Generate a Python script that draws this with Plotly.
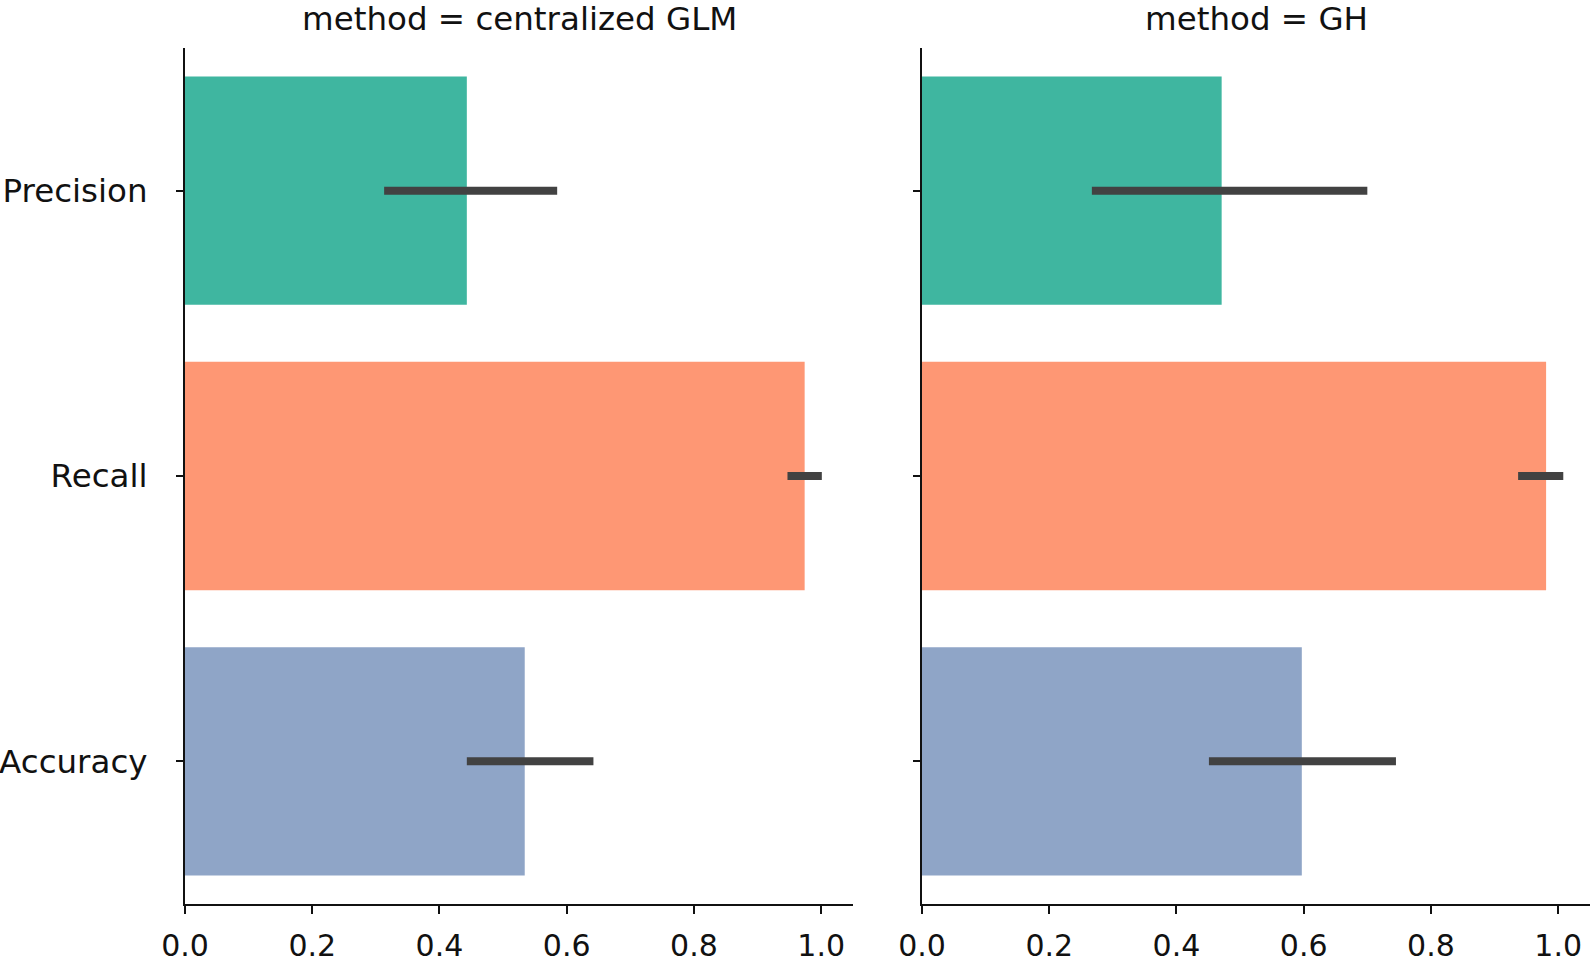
import plotly.graph_objects as go

metrics = ["Precision", "Recall", "Accuracy"]
methods = ["centralized GLM", "GH"]
values = {
    "centralized GLM": [0.443, 0.974, 0.534],
    "GH": [0.471, 0.981, 0.597],
}
ci_low = {
    "centralized GLM": [0.313, 0.947, 0.443],
    "GH": [0.267, 0.937, 0.451],
}
ci_high = {
    "centralized GLM": [0.585, 1.001, 0.642],
    "GH": [0.700, 1.008, 0.745],
}
tick_vals = [0.0, 0.2, 0.4, 0.6, 0.8, 1.0]
tick_text = ["0.0", "0.2", "0.4", "0.6", "0.8", "1.0"]
colors = ["#3fb6a0", "#fe9774", "#8fa5c7"]
err_color = "#424242"

W, H = 1593, 966
font = dict(family="DejaVu Sans", size=32.5, color="#111111")
xfont = dict(family="DejaVu Sans", size=30, color="#111111")

fig = go.Figure()

x_domains = [[185 / W, 853 / W], [922 / W, 1590 / W]]
y_domain = [62 / H, 918 / H]

for i, m in enumerate(methods):
    xa = "x" if i == 0 else "x2"
    ya = "y" if i == 0 else "y2"
    fig.add_trace(go.Bar(
        y=metrics, x=values[m], orientation="h",
        marker=dict(color=colors, line=dict(width=0)),
        width=0.8, xaxis=xa, yaxis=ya, showlegend=False,
    ))
    ex, ey = [], []
    for k, cat in enumerate(metrics):
        ex += [ci_low[m][k], ci_high[m][k], None]
        ey += [cat, cat, None]
    fig.add_trace(go.Scatter(
        x=ex, y=ey, mode="lines",
        line=dict(color=err_color, width=8),
        xaxis=xa, yaxis=ya, showlegend=False, hoverinfo="skip",
    ))

axis_common = dict(
    showgrid=False, zeroline=False, showline=True, linecolor="#111111",
    linewidth=2, ticks="outside", tickcolor="#111111", tickwidth=2,
)

for i in range(2):
    sfx = "" if i == 0 else str(i + 1)
    fig.update_layout(**{
        f"xaxis{sfx}": dict(
            domain=x_domains[i], range=[0, 1.05], anchor=f"y{sfx}",
            tickvals=tick_vals, ticktext=tick_text, ticklen=8,
            tickfont=xfont, ticklabelstandoff=6, automargin=False,
            **axis_common,
        ),
        f"yaxis{sfx}": dict(
            domain=y_domain, range=[2.5, -0.5], anchor=f"x{sfx}",
            type="category", categoryorder="array", categoryarray=metrics,
            ticklen=7, tickfont=font, showticklabels=(i == 0),
            ticklabelstandoff=22, automargin=False,
            **axis_common,
        ),
    })

for i, m in enumerate(methods):
    d = x_domains[i]
    fig.add_annotation(
        text=f"method = {m}", x=(d[0] + d[1]) / 2, y=1 - 19 / H,
        xref="paper", yref="paper", showarrow=False,
        font=font, xanchor="center", yanchor="middle",
    )

fig.update_layout(
    width=W, height=H, margin=dict(l=0, r=0, t=0, b=0),
    plot_bgcolor="white", paper_bgcolor="white", bargap=0.2,
)

fig.write_html(
    "out.html",
    config={"displayModeBar": False},
    post_script="document.body.style.margin='0';document.body.style.overflow='hidden';",
)
